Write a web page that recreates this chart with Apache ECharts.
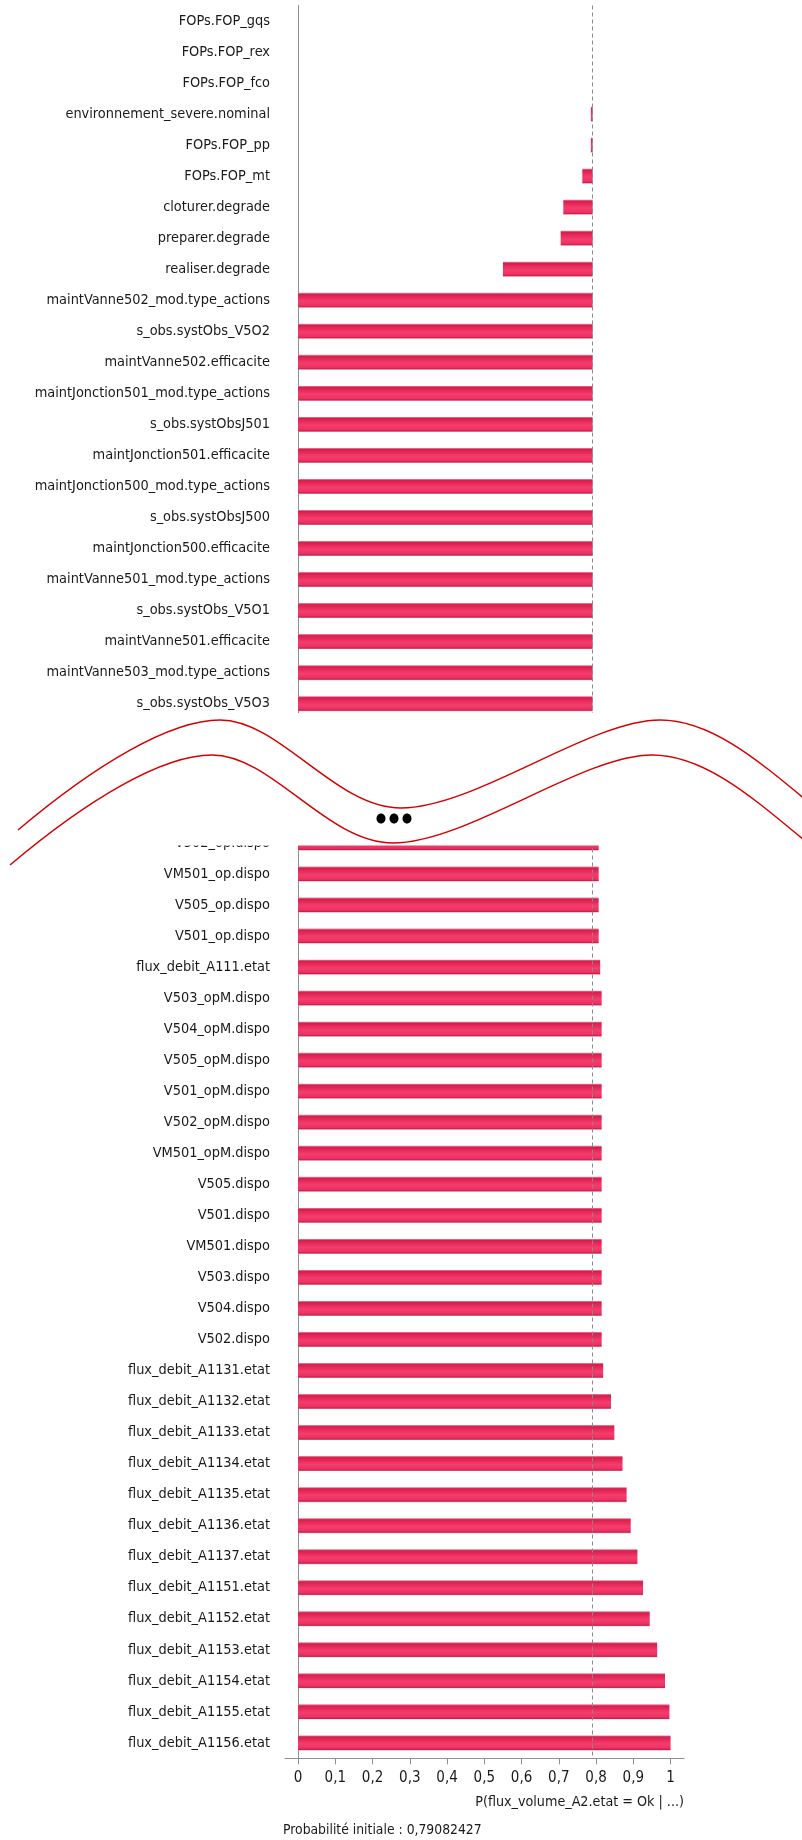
<!DOCTYPE html>
<html>
<head>
<meta charset="utf-8">
<script src="https://cdn.jsdelivr.net/npm/echarts@6/dist/echarts.min.js"></script>
<style>
  html, body { margin: 0; padding: 0; background: #fff; }
  #chart { width: 802px; height: 1840px; }
</style>
</head>
<body>
<div id="chart"></div>
<script>
const initial = 0.79082427;

const topCategories = [
  'FOPs.FOP_gqs', 'FOPs.FOP_rex', 'FOPs.FOP_fco', 'environnement_severe.nominal',
  'FOPs.FOP_pp', 'FOPs.FOP_mt', 'cloturer.degrade', 'preparer.degrade', 'realiser.degrade',
  'maintVanne502_mod.type_actions', 's_obs.systObs_V5O2', 'maintVanne502.efficacite',
  'maintJonction501_mod.type_actions', 's_obs.systObsJ501', 'maintJonction501.efficacite',
  'maintJonction500_mod.type_actions', 's_obs.systObsJ500', 'maintJonction500.efficacite',
  'maintVanne501_mod.type_actions', 's_obs.systObs_V5O1', 'maintVanne501.efficacite',
  'maintVanne503_mod.type_actions', 's_obs.systObs_V5O3'
];
// low end of each bar (bar runs from this value up to the initial probability)
const topValues = [
  0.7908, 0.7908, 0.7908, 0.786, 0.786, 0.763, 0.712, 0.705, 0.550,
  0, 0, 0, 0, 0, 0, 0, 0, 0, 0, 0, 0, 0, 0
];

const bottomCategories = [
  'V502_op.dispo', 'VM501_op.dispo', 'V505_op.dispo', 'V501_op.dispo', 'flux_debit_A111.etat',
  'V503_opM.dispo', 'V504_opM.dispo', 'V505_opM.dispo', 'V501_opM.dispo', 'V502_opM.dispo',
  'VM501_opM.dispo', 'V505.dispo', 'V501.dispo', 'VM501.dispo', 'V503.dispo', 'V504.dispo',
  'V502.dispo', 'flux_debit_A1131.etat', 'flux_debit_A1132.etat', 'flux_debit_A1133.etat',
  'flux_debit_A1134.etat', 'flux_debit_A1135.etat', 'flux_debit_A1136.etat', 'flux_debit_A1137.etat',
  'flux_debit_A1151.etat', 'flux_debit_A1152.etat', 'flux_debit_A1153.etat', 'flux_debit_A1154.etat',
  'flux_debit_A1155.etat', 'flux_debit_A1156.etat'
];
const bottomValues = [
  0.807, 0.807, 0.807, 0.807, 0.811,
  0.815, 0.815, 0.815, 0.815, 0.815,
  0.815, 0.815, 0.815, 0.815, 0.815, 0.815,
  0.815, 0.819, 0.840, 0.849,
  0.871, 0.882, 0.893, 0.911,
  0.926, 0.944, 0.964, 0.985,
  0.997, 1.0
];

const xTicks = [0, 0.1, 0.2, 0.3, 0.4, 0.5, 0.6, 0.7, 0.8, 0.9, 1];
const xTitle = 'P(flux_volume_A2.etat = Ok | ...)';
const footText = 'Probabilité initiale : ' + String(initial).replace('.', ',');

const FONT = "'Liberation Sans Narrow', 'Arial Narrow', 'DejaVu Sans Condensed', sans-serif";
const TXT = '#1a1a1a';
const AXIS = '#8f8f8f';

function barGradient() {
  return new echarts.graphic.LinearGradient(0, 0, 0, 1, [
    { offset: 0, color: '#f28aa6' },
    { offset: 0.1, color: '#d41f4c' },
    { offset: 0.3, color: '#e62b5a' },
    { offset: 0.55, color: '#f63c6d' },
    { offset: 0.85, color: '#ea3261' },
    { offset: 0.94, color: '#c81d45' },
    { offset: 1, color: '#f0a0b4' }
  ]);
}

const BAND = 31.03;
const XMIN = -0.035, XMAX = 1.036;

const chart = echarts.init(document.getElementById('chart'), null, { renderer: 'canvas' });

const markLine = {
  symbol: 'none',
  silent: true,
  label: { show: false },
  lineStyle: { type: [4, 3], color: '#8a8a8a', width: 1 },
  data: [{ xAxis: initial }]
};

const catAxis = (gridIndex, data) => ({
  type: 'category',
  gridIndex,
  data,
  inverse: true,
  axisLine: { show: true, lineStyle: { color: AXIS, width: 1 } },
  axisTick: { show: false },
  axisLabel: { interval: 0, fontSize: 14.4, color: TXT, fontFamily: FONT, margin: 15 },
  splitLine: { show: false }
});

// decorative break between the two panels
const waveSegs = [
  { x1: 18, y1: 830, cpx1: 95, cpy1: 765, cpx2: 170, cpy2: 720, x2: 220, y2: 720 },
  { x1: 220, y1: 720, cpx1: 280, cpy1: 720, cpx2: 335, cpy2: 808, x2: 401, y2: 808 },
  { x1: 401, y1: 808, cpx1: 475, cpy1: 808, cpx2: 590, cpy2: 720, x2: 660, y2: 720 },
  { x1: 660, y1: 720, cpx1: 712, cpy1: 720, cpx2: 760, cpy2: 762, x2: 812, y2: 805 }
];
const waveStyle = { stroke: '#d40000', lineWidth: 1.5, fill: null };
const waveEls = [];
[[0, 0], [-8, 35]].forEach(([dx, dy]) => {
  waveSegs.forEach(s => {
    waveEls.push({ type: 'bezierCurve', z: 101, silent: true, x: dx, y: dy, shape: Object.assign({}, s), style: Object.assign({}, waveStyle) });
  });
});

const option = {
  animation: false,
  backgroundColor: '#fff',
  title: [
    { text: xTitle, right: 118, top: 1795, padding: 0,
      textStyle: { fontSize: 14.2, fontWeight: 'normal', color: TXT, fontFamily: FONT } },
    { text: footText, left: 283, top: 1823, padding: 0,
      textStyle: { fontSize: 13.8, fontWeight: 'normal', color: TXT, fontFamily: FONT } }
  ],
  grid: [
    { left: 285, right: 118, top: 5.5, height: BAND * topCategories.length },
    { left: 285, right: 118, top: 827.5, height: BAND * bottomCategories.length }
  ],
  xAxis: [
    { type: 'value', gridIndex: 0, min: XMIN, max: XMAX, show: false, splitLine: { show: false } },
    {
      type: 'value', gridIndex: 1, min: XMIN, max: XMAX,
      axisLine: { show: true, lineStyle: { color: AXIS, width: 1 } },
      axisTick: { show: true, customValues: xTicks, length: 6, lineStyle: { color: AXIS } },
      axisLabel: {
        customValues: xTicks, fontSize: 15, color: TXT, fontFamily: FONT, margin: 12,
        formatter: v => String(Math.round(v * 10) / 10).replace('.', ',')
      },
      splitLine: { show: false }
    }
  ],
  yAxis: [catAxis(0, topCategories), catAxis(1, bottomCategories)],
  series: [
    {
      name: 'topBase', type: 'bar', xAxisIndex: 0, yAxisIndex: 0, stack: 'top',
      barWidth: 15, silent: true,
      itemStyle: { color: 'rgba(0,0,0,0)' },
      data: topValues
    },
    {
      name: 'top', type: 'bar', xAxisIndex: 0, yAxisIndex: 0, stack: 'top',
      barWidth: 15, silent: true,
      itemStyle: { color: barGradient() },
      data: topValues.map(v => Math.max(0, initial - v)),
      markLine
    },
    {
      name: 'bottom', type: 'bar', xAxisIndex: 1, yAxisIndex: 1,
      barWidth: 15, silent: true,
      itemStyle: { color: barGradient() },
      data: bottomValues,
      markLine
    }
  ],
  graphic: [
    { type: 'rect', z: 100, silent: true, shape: { x: 0, y: 713, width: 802, height: 132.5 }, style: { fill: '#fff' } }
  ].concat(waveEls).concat([
    { type: 'ellipse', z: 102, silent: true, shape: { cx: 381, cy: 818.5, rx: 4.5, ry: 5 }, style: { fill: '#000' } },
    { type: 'ellipse', z: 102, silent: true, shape: { cx: 394, cy: 818.5, rx: 4.5, ry: 5 }, style: { fill: '#000' } },
    { type: 'ellipse', z: 102, silent: true, shape: { cx: 407, cy: 818.5, rx: 4.5, ry: 5 }, style: { fill: '#000' } }
  ])
};

chart.setOption(option);
</script>
</body>
</html>
